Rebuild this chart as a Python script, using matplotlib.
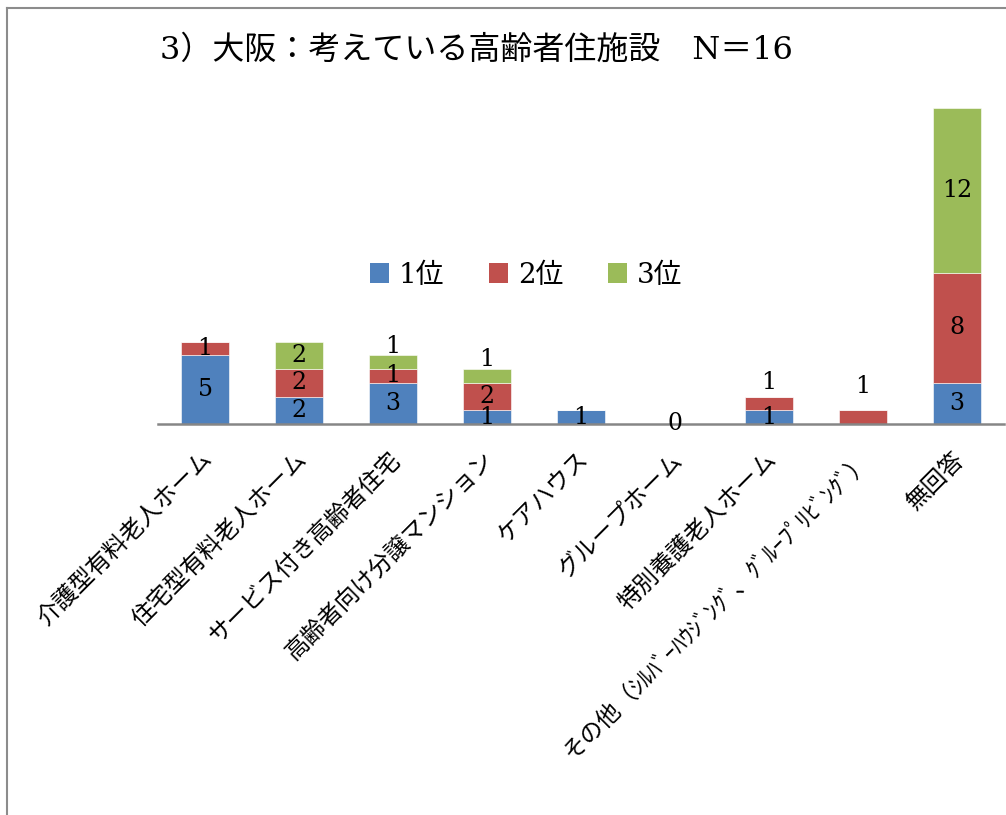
import matplotlib
matplotlib.use("Agg")
import matplotlib.pyplot as plt
from matplotlib.patches import Patch
from matplotlib.lines import Line2D
import numpy as np

plt.rcParams['font.family'] = ['Noto Sans CJK JP', 'DejaVu Sans']

# --- data ---
categories = [
    "介護型有料老人ホーム",
    "住宅型有料老人ホーム",
    "サービス付き高齢者住宅",
    "高齢者向け分譲マンション",
    "ケアハウス",
    "グループホーム",
    "特別養護老人ホーム",
    "その他（ｼﾙﾊﾞｰﾊｳｼﾞﾝｸﾞ、ｸﾞﾙｰﾌﾟﾘﾋﾞﾝｸﾞ）",
    "無回答",
]
series_names = ["1位", "2位", "3位"]
rank1 = [5, 2, 3, 1, 1, 0, 1, 0, 3]
rank2 = [1, 2, 1, 2, 0, 0, 1, 1, 8]
rank3 = [0, 2, 1, 1, 0, 0, 0, 0, 12]
title = "3）大阪：考えている高齢者住施設　N＝16"

# --- style ---
colors = ["#4F81BD", "#C0504D", "#9BBB59"]
num_font = ['DejaVu Serif', 'Noto Sans CJK JP']
# hand-placed label nudges (points, upward) for crowded thin segments
label_nudge = {(2, 2): 11, (3, 2): 11.5, (6, 1): 15, (7, 1): 22}

fig = plt.figure(figsize=(10.06, 8.15), dpi=100)
W, H = 1006, 815
ax = fig.add_axes([158 / W, 1 - 424 / H, 846 / W, 316 / H])

x = np.arange(len(categories))
series = [rank1, rank2, rank3]
bottom = np.zeros(len(categories))
for si, (vals, col) in enumerate(zip(series, colors)):
    vals = np.array(vals, dtype=float)
    ax.bar(x, vals, width=0.51, bottom=bottom, color=col,
           edgecolor='white', linewidth=0.4, label=series_names[si], zorder=2)
    for i, v in enumerate(vals):
        total = rank1[i] + rank2[i] + rank3[i]
        if v > 0 or (total == 0 and si == 0):
            yc = bottom[i] + v / 2
            ax.annotate(f"{int(v)}", (x[i], yc),
                        xytext=(0, label_nudge.get((i, si), 0)),
                        textcoords='offset points', ha='center', va='center',
                        fontsize=17, family=num_font, color='black',
                        zorder=5, annotation_clip=False)
    bottom += vals

ax.set_xlim(-0.5, len(categories) - 0.5)
ax.set_ylim(0, 23)
for s in ['top', 'right', 'left']:
    ax.spines[s].set_visible(False)
ax.spines['bottom'].set_color('#868686')
ax.spines['bottom'].set_linewidth(1.8)
ax.set_yticks([])
ax.set_xticks(x)
ax.tick_params(axis='x', length=0, pad=0)
ax.set_xticklabels([])
for i, name in enumerate(categories):
    ax.annotate(name, (x[i], 0), xytext=(3, -23), textcoords='offset points',
                rotation=45, rotation_mode='anchor', ha='right', va='center',
                fontsize=17, color='black', annotation_clip=False)

handles = [Patch(facecolor=c, edgecolor='none') for c in colors]
ax.legend(handles, series_names, loc='center', bbox_to_anchor=(0.435, 0.4715),
          ncol=3, frameon=False, handlelength=0.7, handleheight=0.7,
          handletextpad=0.35, columnspacing=1.6,
          prop={'family': num_font, 'size': 20})

fig.text(160 / W, 1 - 50 / H, title, ha='left', va='center', fontsize=23,
         family=num_font, color='black')

# chart-area frame
fig.add_artist(Line2D([7 / W, 7 / W], [0, 1 - 8 / H], transform=fig.transFigure,
                      color='#8c8c8c', linewidth=1.5))
fig.add_artist(Line2D([7 / W, 1], [1 - 8 / H, 1 - 8 / H], transform=fig.transFigure,
                      color='#8c8c8c', linewidth=1.5))

fig.savefig("out.png", dpi=100, facecolor='white')
